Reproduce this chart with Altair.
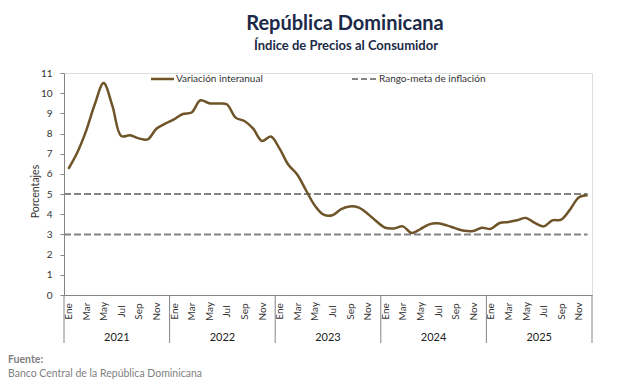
import altair as alt
import pandas as pd

# ---- data ----
years = [2021, 2022, 2023, 2024, 2025]
month_labels = ["Ene", "Feb", "Mar", "Abr", "May", "Jun", "Jul", "Ago", "Sep", "Oct", "Nov", "Dic"]
inflation_2021 = [6.25, 7.05, 8.12, 9.45, 10.50, 9.37, 7.88, 7.91, 7.76, 7.71, 8.24, 8.49]
inflation_2022 = [8.70, 8.97, 9.04, 9.65, 9.50, 9.49, 9.45, 8.79, 8.62, 8.24, 7.63, 7.85]
inflation_2023 = [7.25, 6.45, 5.97, 5.19, 4.43, 3.98, 3.95, 4.26, 4.39, 4.33, 4.03, 3.65]
inflation_2024 = [3.33, 3.30, 3.40, 3.07, 3.27, 3.50, 3.55, 3.45, 3.30, 3.18, 3.17, 3.33]
inflation_2025 = [3.28, 3.57, 3.62, 3.70, 3.82, 3.57, 3.40, 3.70, 3.73, 4.23, 4.83, 4.94]
target_range = [3, 5]
y_ticks = list(range(0, 12))

title_text = "República Dominicana"
subtitle_text = "Índice de Precios al Consumidor"
series_label = "Variación interanual"
target_label = "Rango-meta de inflación"
source_title = "Fuente:"
source_text = "Banco Central de la República Dominicana"

# ---- tables ----
all_values = inflation_2021 + inflation_2022 + inflation_2023 + inflation_2024 + inflation_2025
df_line = pd.DataFrame({"xi": [k + 0.5 for k in range(len(all_values))], "yv": all_values})
df_target = pd.DataFrame({"yv": target_range})
df_sep = pd.DataFrame({"xi": [12 * i for i in range(len(years) + 1)]})
df_years = pd.DataFrame({"xi": [12 * i + 6 for i in range(len(years))], "year": [str(y) for y in years]})
one = pd.DataFrame({"a": [0]})

W, H = 528, 222
FONT = "Lato"
LINE_COLOR = "#6E5428"
GRAY = "#848484"
NAVY = "#1C2A48"

month_expr = "[" + ",".join("'%s'" % m for m in month_labels) + "][floor(datum.value) % 12]"

x_enc = alt.X(
    "xi:Q",
    scale=alt.Scale(domain=[0, 12 * len(years)], nice=False, zero=False),
    axis=alt.Axis(
        title=None,
        values=[k + 0.5 for k in range(0, 12 * len(years), 2)],
        labelExpr=month_expr,
        labelAngle=270,
        labelAlign="center",
        labelBaseline="middle",
        labelPadding=16,
        ticks=False,
        grid=False,
        domainColor=GRAY,
        labelFont=FONT,
        labelFontSize=10,
        labelColor="#333333",
        labelOverlap=False,
    ),
)
y_enc = alt.Y(
    "yv:Q",
    scale=alt.Scale(domain=[0, 11], nice=False),
    axis=alt.Axis(
        title="Porcentajes",
        values=y_ticks,
        grid=False,
        tickSize=4,
        tickColor=GRAY,
        domainColor=GRAY,
        labelPadding=8,
        labelFont=FONT,
        labelFontSize=10,
        labelColor="#333333",
        titleFont=FONT,
        titleFontSize=10.5,
        titleFontWeight="normal",
        titleColor="#333333",
        titlePadding=0,
        titleY=118,
    ),
)

line = alt.Chart(df_line).mark_line(
    color=LINE_COLOR, strokeWidth=2.5, interpolate="catmull-rom"
).encode(x=x_enc, y=y_enc)

targets = alt.Chart(df_target).mark_rule(
    color=GRAY, strokeWidth=2, strokeDash=[7, 3]
).encode(y=y_enc, x=alt.value(0), x2=alt.value(W * 59.5 / 60))

seps = alt.Chart(df_sep).mark_rule(color=GRAY, strokeWidth=1).encode(
    x=x_enc, y=alt.value(H), y2=alt.value(H + 48)
)

year_text = alt.Chart(df_years).mark_text(
    font=FONT, fontSize=11, color="#222222", baseline="middle"
).encode(x=x_enc, y=alt.value(H + 43), text="year:N")

leg_line = alt.Chart(one).mark_rule(color=LINE_COLOR, strokeWidth=2.5).encode(
    x=alt.value(87), x2=alt.value(110), y=alt.value(6)
)
leg_line_txt = alt.Chart(one).mark_text(
    font=FONT, fontSize=10, color="#333333", align="left", baseline="middle"
).encode(x=alt.value(112), y=alt.value(6), text=alt.value(series_label))
leg_dash = alt.Chart(one).mark_rule(color=GRAY, strokeWidth=2, strokeDash=[6, 3]).encode(
    x=alt.value(288), x2=alt.value(312), y=alt.value(6)
)
leg_dash_txt = alt.Chart(one).mark_text(
    font=FONT, fontSize=10, color="#333333", align="left", baseline="middle"
).encode(x=alt.value(315), y=alt.value(6), text=alt.value(target_label))

title_mark = alt.Chart(one).mark_text(
    font=FONT, fontSize=20, fontWeight="bold", color=NAVY, align="center", baseline="alphabetic"
).encode(x=alt.value(281), y=alt.value(-43), text=alt.value(title_text))
subtitle_mark = alt.Chart(one).mark_text(
    font=FONT, fontSize=13, fontWeight="bold", color=NAVY, align="center", baseline="alphabetic"
).encode(x=alt.value(282), y=alt.value(-23), text=alt.value(subtitle_text))

src1 = alt.Chart(one).mark_text(
    font=FONT, fontSize=10.5, fontWeight="bold", color="#7F7F7F", align="left", baseline="middle"
).encode(x=alt.value(-56), y=alt.value(H + 65), text=alt.value(source_title))
src2 = alt.Chart(one).mark_text(
    font=FONT, fontSize=10.5, color="#7F7F7F", align="left", baseline="middle"
).encode(x=alt.value(-56), y=alt.value(H + 79), text=alt.value(source_text))

chart = alt.layer(
    targets, seps, year_text, line,
    leg_line, leg_line_txt, leg_dash, leg_dash_txt,
    title_mark, subtitle_mark, src1, src2,
).properties(
    width=W,
    height=H,
    autosize=alt.AutoSizeParams(type="none"),
    padding={"left": 56, "top": 65, "right": 20, "bottom": 90},
).configure_view(stroke=None).configure(background="white")

chart.save("out.html", embed_options={"renderer": "svg", "actions": False})
